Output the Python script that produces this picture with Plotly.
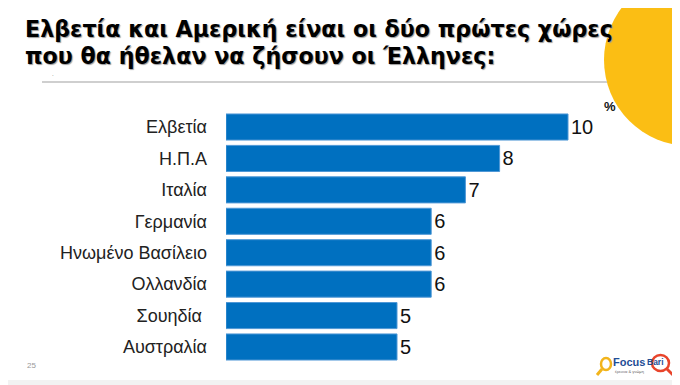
import plotly.graph_objects as go

categories = ["Ελβετία", "Η.Π.Α", "Ιταλία", "Γερμανία", "Ηνωμένο Βασίλειο", "Ολλανδία", "Σουηδία\u00a0", "Αυστραλία"]
values = [10, 8, 7, 6, 6, 6, 5, 5]
title_line1 = "Ελβετία και Αμερική είναι οι δύο πρώτες χώρες"
title_line2 = "που θα ήθελαν να ζήσουν οι Έλληνες:"

# page body has an 8px margin: figure drawn from (8, 8)
OFF = 8
W, H = 680 - OFF, 385 - OFF
def px(x):
    return (x - OFF) / W
def py(y):
    return 1 - (y - OFF) / H

x0_px, xend_px = 226, 600
unit = 34.2
y_top, y_bot = 111.3, 362.7

fig = go.Figure(go.Bar(
    x=values, y=categories, orientation="h",
    marker=dict(color="#0070C0", line=dict(color="#4F98D6", width=1)),
    width=0.83,
    text=[str(v) for v in values], textposition="outside",
    textfont=dict(size=20, color="#111111", family="Liberation Sans, Arial, sans-serif"),
    cliponaxis=False,
))

fig.update_layout(
    width=W, height=H,
    margin=dict(l=0, r=0, t=0, b=0),
    paper_bgcolor="white", plot_bgcolor="rgba(0,0,0,0)",
    showlegend=False,
    font=dict(family="Liberation Sans, Arial, sans-serif"),
    xaxis=dict(domain=[px(x0_px), px(xend_px)], range=[0, (xend_px - x0_px) / unit],
               visible=False, fixedrange=True),
    yaxis=dict(domain=[py(y_bot), py(y_top)], categoryorder="array", categoryarray=categories,
               range=[len(categories) - 0.5, -0.5], showgrid=False, zeroline=False,
               showline=False, ticks="", ticklabelstandoff=18,
               tickfont=dict(size=18, color="#222222")),
)

shapes = [
    dict(type="circle", xref="paper", yref="paper", x0=px(604), x1=px(776), y0=py(146), y1=py(-26),
         fillcolor="#FBBE14", line=dict(width=0), layer="below"),
    dict(type="line", xref="paper", yref="paper", x0=px(42), x1=px(607), y0=py(82), y1=py(82),
         line=dict(color="#CFCFCF", width=2), layer="above"),
    dict(type="rect", xref="paper", yref="paper", x0=0, x1=1, y0=0, y1=py(380),
         fillcolor="#F2F2F2", line=dict(width=0), layer="below"),
    # logo rings
    dict(type="circle", xref="paper", yref="paper", x0=px(601), x1=px(611), y0=py(370), y1=py(358),
         line=dict(color="#F2B41B", width=2.5), layer="above"),
    dict(type="line", xref="paper", yref="paper", x0=px(602), x1=px(597), y0=py(369), y1=py(375),
         line=dict(color="#F2B41B", width=3), layer="above"),
    dict(type="circle", xref="paper", yref="paper", x0=px(652), x1=px(669), y0=py(371), y1=py(355),
         line=dict(color="#E8442B", width=2.5), layer="above"),
    dict(type="line", xref="paper", yref="paper", x0=px(667), x1=px(674), y0=py(369), y1=py(376),
         line=dict(color="#E8442B", width=3), layer="above"),
]
fig.update_layout(shapes=shapes)

title_font = dict(size=22.2, color="#000000", family="DejaVu Sans, sans-serif",
                  weight="bold", shadow="1px 1px 1px #9a9a9a")
annotations = [
    dict(text=title_line1, x=px(23), y=py(28.5), xref="paper", yref="paper",
         xanchor="left", yanchor="middle", showarrow=False, font=title_font),
    dict(text=title_line2, x=px(23), y=py(55.5), xref="paper", yref="paper",
         xanchor="left", yanchor="middle", showarrow=False, font=title_font),
    dict(text="%", x=px(610), y=py(107), xref="paper", yref="paper",
         xanchor="center", yanchor="middle", showarrow=False,
         font=dict(size=13, color="#111111", weight="bold")),
    dict(text=".", x=px(53), y=py(74), xref="paper", yref="paper",
         xanchor="center", yanchor="middle", showarrow=False,
         font=dict(size=6, color="#555555")),
    dict(text="25", x=px(31), y=py(365), xref="paper", yref="paper",
         xanchor="center", yanchor="middle", showarrow=False,
         font=dict(size=8, color="#999999")),
    dict(text="<b>Focus</b>", x=px(611), y=py(362), xref="paper", yref="paper",
         xanchor="left", yanchor="middle", showarrow=False,
         font=dict(size=11, color="#1F4E96")),
    dict(text="<b>Bari</b>", x=px(645), y=py(362), xref="paper", yref="paper",
         xanchor="left", yanchor="middle", showarrow=False,
         font=dict(size=8.5, color="#1F4E96")),
    dict(text="έρευνα & γνώμη", x=px(613), y=py(371), xref="paper", yref="paper",
         xanchor="left", yanchor="middle", showarrow=False,
         font=dict(size=4, color="#666666")),
]
fig.update_layout(annotations=annotations)

fig.write_html("out.html")
